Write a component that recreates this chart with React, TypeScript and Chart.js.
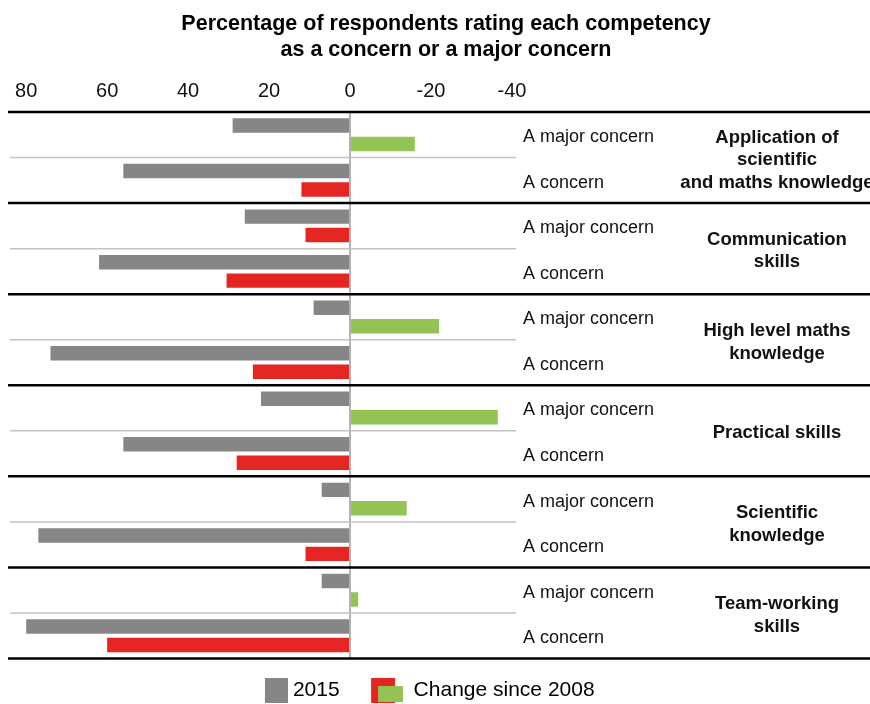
import React, { useEffect, useRef } from 'react';
import { Chart, registerables } from 'chart.js';

Chart.register(...registerables);

const TITLE_LINES = ['Percentage of respondents rating each competency', 'as a concern or a major concern'];
const GROUPS = [
  ['Application of', 'scientific', 'and maths knowledge'],
  ['Communication', 'skills'],
  ['High level maths', 'knowledge'],
  ['Practical skills'],
  ['Scientific', 'knowledge'],
  ['Team-working', 'skills'],
];
const ROW_LABELS = ['A major concern', 'A concern'];
const VALUES_2015 = [29, 56, 26, 62, 9, 74, 22, 56, 7, 77, 7, 80];
const CHANGE_SINCE_2008 = [-16, 12, 11, 30.5, -22, 24, -36.5, 28, -14, 11, -2, 60];
const X_TICKS = [80, 60, 40, 20, 0, -20, -40];
const SERIES_NAMES = ['2015', 'Change since 2008'];

const GRAY = '#868686';
const RED = '#E42521';
const GREEN = '#92C353';
const FONT = "'Liberation Sans', Arial, Helvetica, sans-serif";
const PAD_R = 45;

function makeIcon(draw: (ctx: CanvasRenderingContext2D) => void, w: number, h: number) {
  const c = document.createElement('canvas');
  c.width = w;
  c.height = h;
  const ctx = c.getContext('2d')!;
  draw(ctx);
  return c;
}

export default function App() {
  const ref = useRef<HTMLCanvasElement | null>(null);

  useEffect(() => {
    if (!ref.current) return;
    const labels = GROUPS.flatMap(() => ROW_LABELS);

    const icon2015 = makeIcon((ctx) => {
      ctx.fillStyle = GRAY;
      ctx.fillRect(30, 0, 23, 25);
    }, 53, 25);
    const iconChange = makeIcon((ctx) => {
      ctx.fillStyle = RED;
      ctx.fillRect(10, 0, 24, 25);
      ctx.fillStyle = GREEN;
      ctx.fillRect(17, 8, 25, 16);
    }, 42, 25);

    const sidePlugin = {
      id: 'sideDecor',
      afterLayout(chart: any) {
        const t = chart.titleBlock;
        if (t) {
          t.left += 28.5;
          t.right += 28.5;
        }
      },
      beforeDatasetsDraw(chart: any) {
        const { ctx, chartArea, scales } = chart;
        const y = scales.y;
        const rowH = y.getPixelForValue(1) - y.getPixelForValue(0);
        ctx.save();
        for (let i = 0; i <= labels.length; i++) {
          const py = y.getPixelForValue(i) - rowH / 2;
          ctx.beginPath();
          if (i % 2 === 0) {
            ctx.strokeStyle = '#000';
            ctx.lineWidth = 2.5;
            ctx.moveTo(8, py);
            ctx.lineTo(870, py);
          } else {
            ctx.strokeStyle = '#c2c2c2';
            ctx.lineWidth = 1.5;
            ctx.moveTo(chartArea.left, py);
            ctx.lineTo(chartArea.right, py);
          }
          ctx.stroke();
        }
        ctx.restore();
      },
      afterDraw(chart: any) {
        const { ctx, scales } = chart;
        const y = scales.y;
        ctx.save();
        ctx.fillStyle = '#111';
        ctx.font = `bold 18.5px ${FONT}`;
        ctx.textAlign = 'center';
        ctx.textBaseline = 'middle';
        GROUPS.forEach((lines, g) => {
          const cy = (y.getPixelForValue(2 * g) + y.getPixelForValue(2 * g + 1)) / 2 + 2.5;
          const lh = 22.5;
          lines.forEach((line, k) => {
            ctx.fillText(line, 777, cy + (k - (lines.length - 1) / 2) * lh);
          });
        });
        ctx.restore();
      },
    };

    const chart = new Chart(ref.current, {
      type: 'bar',
      data: {
        labels,
        datasets: [
          {
            label: SERIES_NAMES[0],
            data: VALUES_2015,
            backgroundColor: GRAY,
            categoryPercentage: 0.81,
            barPercentage: 0.784,
          },
          {
            label: SERIES_NAMES[1],
            data: CHANGE_SINCE_2008,
            backgroundColor: CHANGE_SINCE_2008.map((v) => (v > 0 ? RED : GREEN)),
            categoryPercentage: 0.81,
            barPercentage: 0.784,
          },
        ],
      },
      options: {
        indexAxis: 'y',
        responsive: false,
        animation: false,
        layout: { padding: { left: 10, right: PAD_R, top: 0, bottom: -7 } },
        scales: {
          x: {
            type: 'linear',
            position: 'top',
            reverse: true,
            min: -41,
            max: 84,
            afterBuildTicks: (s: any) => {
              s.ticks = X_TICKS.map((v) => ({ value: v }));
            },
            afterFit: (s: any) => {
              s.height = 49;
            },
            ticks: {
              font: { family: FONT, size: 20 },
              color: '#111',
              padding: 9,
              autoSkip: false,
              maxRotation: 0,
            },
            grid: {
              drawTicks: false,
              color: (c: any) => (c.tick && c.tick.value === 0 ? '#b3b3b3' : 'rgba(0,0,0,0)'),
              lineWidth: 2,
            },
            border: { display: false },
          },
          y: {
            type: 'category',
            position: 'right',
            afterFit: (s: any) => {
              s.width = 354 - PAD_R;
            },
            ticks: {
              font: { family: FONT, size: 18 },
              color: '#111',
              padding: 7,
              labelOffset: 2.5,
              autoSkip: false,
            },
            grid: { display: false, drawTicks: false },
            border: { display: false },
          },
        },
        plugins: {
          title: {
            display: true,
            text: TITLE_LINES,
            color: '#000',
            font: { family: FONT, size: 21.5, weight: 'bold', lineHeight: '26px' },
            padding: { top: 11, bottom: 0 },
          },
          legend: {
            position: 'bottom',
            labels: {
              usePointStyle: true,
              pointStyleWidth: 42,
              padding: 21.5,
              color: '#111',
              font: { family: FONT, size: 21 },
              generateLabels: () => [
                {
                  text: SERIES_NAMES[0],
                  pointStyle: icon2015 as any,
                  fillStyle: GRAY,
                  strokeStyle: 'rgba(0,0,0,0)',
                  lineWidth: 0,
                  hidden: false,
                  datasetIndex: 0,
                },
                {
                  text: SERIES_NAMES[1],
                  pointStyle: iconChange as any,
                  fillStyle: RED,
                  strokeStyle: 'rgba(0,0,0,0)',
                  lineWidth: 0,
                  hidden: false,
                  datasetIndex: 1,
                },
              ],
            },
          },
          tooltip: { enabled: false },
        },
      } as any,
      plugins: [sidePlugin],
    });

    return () => chart.destroy();
  }, []);

  return (
    <div style={{ position: 'fixed', left: 0, top: 0, width: 870, height: 704, background: '#fff' }}>
      <canvas ref={ref} width={870} height={704} style={{ display: 'block' }} />
    </div>
  );
}
